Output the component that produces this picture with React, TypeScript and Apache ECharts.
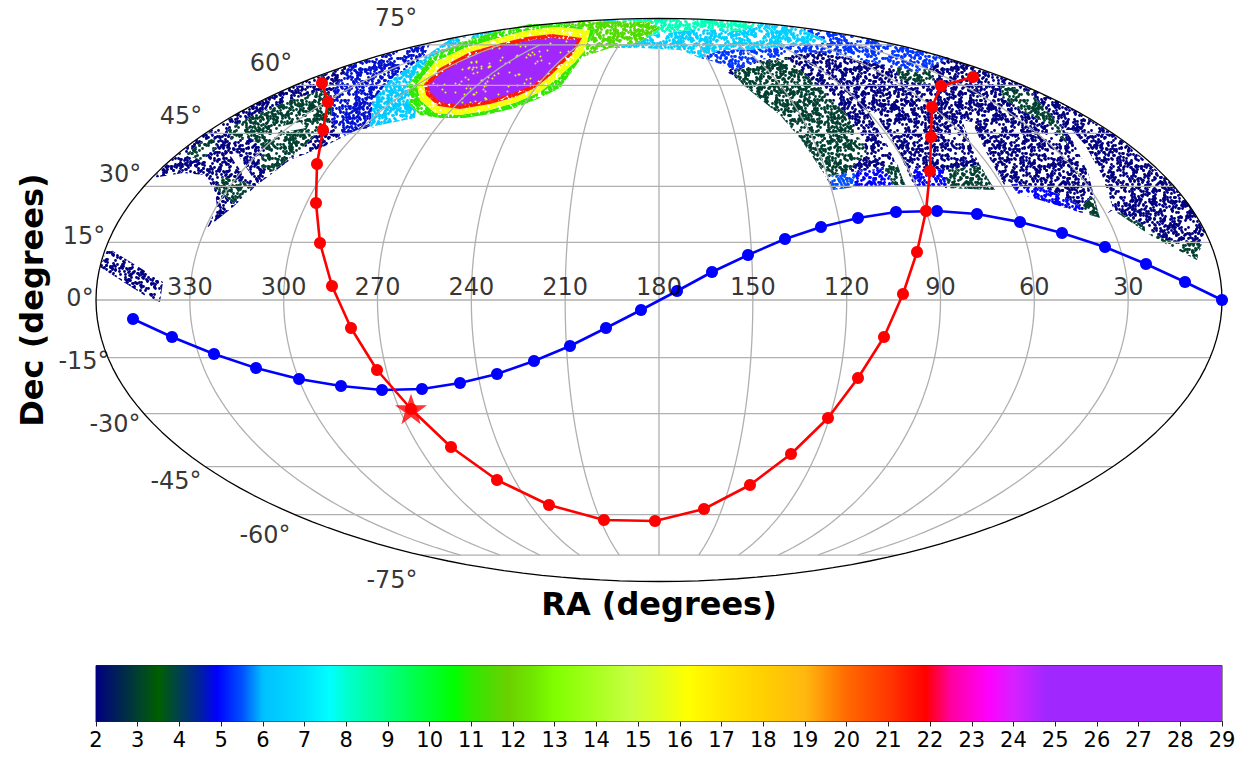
import React, { useEffect, useRef } from "react";
import * as echarts from "echarts";

type P = number[];

// Mollweide plane: both axes run in projected units (scaled so the semi-axes are 563 x 281.5).
const HALF_W = 563;
const HALF_H = 281.5;

const raLabels = [330, 300, 270, 240, 210, 180, 150, 120, 90, 60, 30];
const decTickLabels = ["75°", "60°", "45°", "30°", "15°", "0°", "-15°", "-30°", "-45°", "-60°", "-75°"];
const decTickX = [-263, -388, -478, -539, -575, -579, -575, -544, -483, -394, -267];
const decTickY = [282, 237, 184, 126, 64, 2, -61, -124, -181, -235, -280];
const colorbarTicks = [2, 29];

const blueX = [563, 526, 487, 446, 403, 361, 318, 278, 237, 199, 162, 126, 89, 53, 18, -18, -53, -89, -125, -162, -199, -237, -277, -318, -360, -403, -445, -487, -526];
const blueY = [0, 18, 36, 53, 67, 78, 86, 89, 88, 82, 73, 61, 45, 28, 9, -10, -28, -46, -61, -74, -83, -89, -90, -86, -79, -68, -54, -37, -19];

const redX = [314, 282, 273, 272, 271, 267, 258, 244, 225, 199, 169, 132, 91, 45, -4, -55, -110, -162, -208, -282, -308, -327, -339, -343, -342, -336, -331, -337];
const redY = [223, 214, 193, 163, 129, 89, 48, 6, -37, -78, -118, -154, -185, -209, -221, -220, -205, -180, -147, -70, -28, 14, 57, 97, 136, 170, 198, 217];
const starPoint = [-248, -109];

// Colour scale (value, colour)
const scaleValues = [2, 3, 3.5, 4, 4.5, 4.9, 5.5, 6, 7, 7.6, 8, 9, 10, 10.6, 11, 11.9, 12.5, 13, 14, 14.8, 15.5, 16.2, 17, 18, 19, 20, 20.5, 21, 21.9, 22.5, 23.4, 24, 24.8, 29];
const scaleColors = ["#000080", "#004030", "#005f00", "#004050", "#001fa0", "#0000ff", "#0050ff", "#00c0ff", "#00e0ff", "#00ffff", "#00ffd0", "#00ff80", "#00ff30", "#00ff00", "#30e800", "#6cd000", "#70e800", "#80ff00", "#a8ff20", "#c8ff40", "#e0ff20", "#ffff00", "#ffe800", "#ffd000", "#ffb810", "#ff6a00", "#ff5000", "#ff3800", "#ff0000", "#ff00a0", "#ff00ff", "#d820ff", "#a028ff", "#a028ff"];

// Sky coverage outlines, in projected units
const navyLeft: P[] = [[-506, 122], [-489, 139], [-459, 163], [-409, 194], [-359, 217], [-309, 235], [-284, 243], [-284, 173], [-302, 170], [-336, 153], [-369, 140], [-402, 115], [-426, 93], [-452, 72], [-442, 93], [-444, 108], [-454, 125], [-476, 127]];
const navyStrip: P[] = [[-559, 33], [-551, 52], [-496, 18], [-499, -2], [-512, 3]];
const greenA: P[] = [[-432, 170], [-409, 183], [-369, 200], [-336, 210], [-314, 195], [-339, 170], [-359, 150], [-387, 128], [-401, 135], [-393, 150], [-409, 162], [-427, 160]];
const greenB: P[] = [[-444, 112], [-436, 123], [-412, 117], [-406, 113], [-426, 97]];
const greenC: P[] = [[-474, 145], [-459, 157], [-446, 163], [-442, 153], [-459, 140]];
const gapLeftA: P[] = [[-429, 145], [-423, 148], [-406, 122], [-412, 120]];
const gapLeftB: P[] = [[-381, 173], [-359, 178], [-353, 172], [-375, 168]];
const blueLeft: P[] = [[-309, 235], [-259, 250], [-229, 256], [-239, 235], [-274, 215], [-289, 175], [-302, 170], [-319, 162], [-327, 180], [-329, 205]];
const cyanLeft: P[] = [[-209, 261], [-159, 270], [-119, 275], [-114, 265], [-159, 255], [-209, 240], [-239, 220], [-244, 182], [-289, 173], [-286, 200], [-269, 220], [-239, 240]];
const blobGreen: P[] = [[-64, 270], [-79, 240], [-99, 212], [-119, 202], [-144, 192], [-169, 186], [-194, 182], [-219, 182], [-239, 185], [-249, 195], [-251, 215], [-229, 242], [-199, 258], [-164, 268], [-129, 276], [-94, 276]];
const blobYellow: P[] = [[-69, 270], [-74, 250], [-84, 238], [-104, 220], [-119, 208], [-142, 198], [-169, 190], [-199, 185], [-224, 187], [-239, 200], [-242, 216], [-224, 238], [-194, 252], [-164, 261], [-134, 269], [-104, 273]];
const blobRed: P[] = [[-77, 262], [-87, 245], [-109, 224], [-124, 212], [-144, 203], [-169, 196], [-199, 191], [-221, 194], [-233, 205], [-235, 216], [-219, 232], [-189, 248], [-161, 256], [-133, 263], [-107, 266]];
const blobPurple: P[] = [[-82, 260], [-86, 250], [-112, 227], [-126, 215], [-146, 207], [-169, 200], [-199, 195], [-219, 198], [-229, 208], [-231, 215], [-216, 228], [-186, 245], [-159, 253], [-132, 259], [-109, 262]];
const centreBlue: P[] = [[109, 276], [159, 270], [209, 261], [259, 250], [291, 242], [261, 228], [211, 238], [161, 248], [131, 245], [101, 240], [76, 230], [56, 238], [41, 242], [61, 250]];
const centreCyan: P[] = [[-59, 280], [0, 281], [59, 280], [109, 276], [141, 272], [171, 258], [141, 255], [111, 252], [86, 250], [61, 250], [41, 242], [21, 250], [-19, 252], [-49, 252], [-69, 262]];
const centreSea: P[] = [[-49, 279], [0, 281], [61, 280], [101, 276], [81, 269], [41, 271], [-9, 265], [-39, 262]];
const centreGreen: P[] = [[-129, 275], [-79, 278], [-39, 279], [-9, 278], [1, 272], [-19, 258], [-49, 252], [-79, 242], [-89, 250], [-99, 258], [-124, 264]];
const navyRight: P[] = [[171, 267], [209, 261], [259, 250], [309, 235], [359, 217], [409, 194], [459, 163], [509, 120], [531, 94], [546, 68], [543, 57], [538, 40], [494, 63], [454, 90], [441, 82], [421, 88], [358, 107], [351, 117], [334, 110], [254, 115], [244, 115], [194, 113], [174, 110], [164, 128], [141, 162], [121, 185], [84, 217], [68, 228], [81, 240], [131, 250]];
const gapRightA: P[] = [[209, 188], [215, 188], [238, 152], [255, 114], [247, 114], [230, 152]];
const gapRightB: P[] = [[303, 180], [313, 178], [326, 150], [349, 108], [333, 108], [313, 152]];
const gapRightC: P[] = [[407, 170], [413, 170], [426, 155], [443, 125], [454, 92], [441, 80], [436, 100], [429, 128], [416, 155]];
const greenRightMain: P[] = [[74, 228], [84, 215], [121, 185], [141, 162], [164, 128], [171, 124], [188, 128], [208, 148], [188, 185], [161, 212], [128, 242], [101, 238]];
const greenRightLowA: P[] = [[286, 130], [321, 135], [336, 110], [286, 112]];
const greenRightLowB: P[] = [[226, 135], [238, 137], [246, 115], [229, 115]];
const blueLowA: P[] = [[191, 128], [226, 132], [234, 115], [194, 113]];
const skyLowA: P[] = [[171, 124], [196, 128], [196, 113], [174, 110]];
const blueLowB: P[] = [[253, 132], [286, 130], [288, 114], [256, 114]];
const blueLowC: P[] = [[353, 117], [386, 112], [421, 95], [423, 87], [358, 107]];
const greenLowC: P[] = [[424, 95], [434, 105], [441, 82], [426, 87]];
const greenLowD: P[] = [[454, 90], [476, 80], [506, 60], [543, 57], [538, 40], [494, 63]];
const greenUpperA: P[] = [[341, 215], [371, 208], [401, 175], [409, 155], [391, 175], [366, 188], [344, 202]];
const greenUpperB: P[] = [[236, 235], [271, 230], [276, 215], [241, 220]];

// Layers painted back to front: outline, colour-scale value (null = uncovered), dot density
const layers: { outline: P[]; level: number | null; density: number; radius?: number; solid?: boolean }[] = [
  { outline: navyLeft, level: 2, density: 12 },
  { outline: navyStrip, level: 2, density: 12 },
  { outline: greenA, level: 3, density: 14 },
  { outline: greenB, level: 3, density: 14 },
  { outline: greenC, level: 3, density: 14 },
  { outline: gapLeftA, level: null, density: 0 },
  { outline: gapLeftB, level: null, density: 0 },
  { outline: blueLeft, level: 4.7, density: 14 },
  { outline: navyRight, level: 2, density: 12 },
  { outline: gapRightA, level: null, density: 0 },
  { outline: gapRightB, level: null, density: 0 },
  { outline: gapRightC, level: null, density: 0 },
  { outline: greenRightMain, level: 3, density: 14 },
  { outline: greenRightLowA, level: 3, density: 14 },
  { outline: greenRightLowB, level: 3, density: 14 },
  { outline: blueLowA, level: 4.9, density: 14 },
  { outline: skyLowA, level: 5.5, density: 18 },
  { outline: blueLowB, level: 4.9, density: 14 },
  { outline: blueLowC, level: 4.9, density: 14 },
  { outline: greenLowC, level: 3, density: 14 },
  { outline: greenLowD, level: 3, density: 14 },
  { outline: greenUpperA, level: 3, density: 14 },
  { outline: greenUpperB, level: 3, density: 14 },
  { outline: centreBlue, level: 5.3, density: 14 },
  { outline: cyanLeft, level: 6.3, density: 18 },
  { outline: centreCyan, level: 6.5, density: 18 },
  { outline: centreSea, level: 8.3, density: 20 },
  { outline: centreGreen, level: 11.5, density: 22 },
  { outline: blobGreen, level: 11, density: 26 },
  { outline: blobYellow, level: 16, density: 30 },
  { outline: blobRed, level: 21.5, density: 34 },
  { outline: blobPurple, level: 26, density: 0, solid: true },
  { outline: blobPurple, level: 15.5, density: 2, radius: 1 },
];

function colorAt(v: number): string {
  let i = 0;
  while (i < scaleValues.length - 2 && v > scaleValues[i + 1]) i++;
  const t = (v - scaleValues[i]) / (scaleValues[i + 1] - scaleValues[i]);
  const a = echarts.color.parse(scaleColors[i]);
  const b = echarts.color.parse(scaleColors[i + 1]);
  return `rgb(${a.slice(0, 3).map((c: number, k: number) => Math.round(c + (b[k] - c) * t)).join(",")})`;
}

// A stipple tile: quadratic residues mod a prime give an irregular, repeatable dot texture
function stipple(color: string, density: number, radius: number): HTMLCanvasElement {
  const T = 97;
  const cv = document.createElement("canvas");
  cv.width = T;
  cv.height = T;
  const ctx = cv.getContext("2d")!;
  ctx.fillStyle = color;
  for (let a = 1; a <= density; a++) {
    for (let i = 0; i < T; i++) {
      const x = (i * i * i + a * i * 11) % T;
      const y = (a * i * i + 5 * i + a * a) % T;
      for (const ox of x < 3 ? [0, T] : x > T - 3 ? [0, -T] : [0]) {
        for (const oy of y < 3 ? [0, T] : y > T - 3 ? [0, -T] : [0]) {
          ctx.beginPath();
          ctx.arc(x + ox + 0.5, y + oy + 0.5, radius, 0, Math.PI * 2);
          ctx.fill();
        }
      }
    }
  }
  return cv;
}

function project(lonDeg: number, latDeg: number): number[] {
  const lat = (latDeg * Math.PI) / 180;
  let th = lat;
  for (let i = 0; i < 60; i++) {
    const d = 2 + 2 * Math.cos(2 * th);
    if (Math.abs(d) < 1e-9) break;
    th -= (2 * th + Math.sin(2 * th) - Math.PI * Math.sin(lat)) / d;
  }
  return [(HALF_W * lonDeg * Math.cos(th)) / 180, HALF_H * Math.sin(th)];
}

const sweep = (from: number, to: number, step: number) => {
  const out: number[] = [];
  for (let v = from; v <= to + 1e-9; v += step) out.push(v);
  return out;
};

const FONT = "DejaVu Sans";

export default function App() {
  const ref = useRef<HTMLDivElement>(null);
  useEffect(() => {
    const chart = echarts.init(ref.current!, undefined, { renderer: "svg" });
    const fills = layers.map((l) => {
      if (l.level === null) return "#ffffff";
      if (l.solid) return colorAt(l.level);
      return { image: stipple(colorAt(l.level), l.density, l.radius ?? 1.4), repeat: "repeat" };
    });

    const grat: any[] = [];
    for (const ra of sweep(-150, 150, 30)) {
      grat.push(sweep(-75, 75, 1.5).map((d) => project(ra, d)));
    }
    for (const dec of sweep(-75, 75, 15)) {
      grat.push(sweep(-180, 180, 3).map((ra) => project(ra, dec)));
    }
    const graticule = grat.map((data) => ({
      type: "line",
      data,
      symbol: "none",
      silent: true,
      clip: false,
      z: 3,
      lineStyle: { color: "#b0b0b0", width: 1.3 },
    }));

    const frame = sweep(0, 360, 2).map((t) => [
      HALF_W * Math.cos((t * Math.PI) / 180),
      HALF_H * Math.sin((t * Math.PI) / 180),
    ]);

    const gradientStops = scaleValues.map((v, i) => ({ offset: (v - 2) / 27, color: scaleColors[i] }));

    chart.setOption({
      animation: false,
      backgroundColor: "#ffffff",
      textStyle: { fontFamily: FONT },
      grid: [
        { left: 96, width: 1126, top: 18.5, height: 563, show: false },
        { left: 96, width: 1126, top: 665.5, height: 56, show: true, borderColor: "#222", borderWidth: 1, backgroundColor: "transparent" },
      ],
      xAxis: [
        {
          gridIndex: 0, type: "value", min: -HALF_W, max: HALF_W,
          axisLine: { show: false }, axisTick: { show: false }, axisLabel: { show: false }, splitLine: { show: false },
          name: "RA (degrees)", nameLocation: "middle", nameGap: 6,
          nameTextStyle: { fontFamily: FONT, fontWeight: "bold", fontSize: 32, color: "#000" },
        },
        {
          gridIndex: 1, type: "value", min: colorbarTicks[0], max: colorbarTicks[1], interval: 1,
          axisLine: { show: true, lineStyle: { color: "#222", width: 1 } },
          axisTick: { show: true, length: 5, lineStyle: { color: "#222", width: 1 } },
          axisLabel: { show: true, fontFamily: FONT, fontSize: 21, color: "#000", margin: 8, hideOverlap: false, showMinLabel: true, showMaxLabel: true },
          splitLine: { show: false },
        },
      ],
      yAxis: [
        {
          gridIndex: 0, type: "value", min: -HALF_H, max: HALF_H,
          axisLine: { show: false }, axisTick: { show: false }, axisLabel: { show: false }, splitLine: { show: false },
          name: "Dec (degrees)", nameLocation: "middle", nameGap: 48, nameRotate: 90,
          nameTextStyle: { fontFamily: FONT, fontWeight: "bold", fontSize: 32, color: "#000" },
        },
        { gridIndex: 1, type: "value", min: 0, max: 1, show: false },
      ],
      series: [
        {
          type: "custom",
          name: "coverage",
          xAxisIndex: 0,
          yAxisIndex: 0,
          silent: true,
          clip: false,
          z: 1,
          data: layers.map(() => [0, 0]),
          renderItem: (params: any, api: any) => {
            const layer = layers[params.dataIndex];
            const points = layer.outline.map((p) => api.coord(p));
            const shape = { points };
            const children: any[] = [];
            if (layer.level !== null && !layer.solid && layer.radius === undefined && layer.outline !== navyLeft && layer.outline !== navyStrip && layer.outline !== navyRight) {
              children.push({ type: "polygon", shape, style: { fill: "#ffffff" } });
            }
            children.push({ type: "polygon", shape, style: { fill: fills[params.dataIndex] } });
            return { type: "group", children };
          },
        },
        ...graticule,
        {
          type: "line",
          data: frame,
          symbol: "none",
          silent: true,
          clip: false,
          z: 4,
          lineStyle: { color: "#000", width: 1.3 },
        },
        {
          type: "line",
          name: "blue",
          data: blueX.map((x, i) => [x, blueY[i]]),
          symbol: "circle",
          symbolSize: 12,
          showAllSymbol: true,
          clip: false,
          z: 6,
          itemStyle: { color: "#0000ff" },
          lineStyle: { color: "#0000ff", width: 2.6 },
        },
        {
          type: "line",
          name: "red",
          data: [...redX.slice(0, 19).map((x, i) => [x, redY[i]]), starPoint, ...redX.slice(19).map((x, i) => [x, redY[i + 19]])],
          symbol: "circle",
          symbolSize: 12,
          showAllSymbol: true,
          clip: false,
          z: 7,
          itemStyle: { color: "#ff0000" },
          lineStyle: { color: "#ff0000", width: 2.6 },
        },
        {
          type: "scatter",
          name: "star",
          data: [starPoint],
          symbol: "path://M50 0 L61.8 35.1 L98.9 35.1 L68.9 57.3 L79.4 92.7 L50 71 L20.6 92.7 L31.1 57.3 L1.1 35.1 L38.2 35.1Z",
          symbolSize: 32,
          symbolKeepAspect: true,
          clip: false,
          z: 8,
          itemStyle: { color: "#ff0000" },
        },
        {
          type: "scatter",
          name: "ra labels",
          data: raLabels.map((ra) => ({ value: [project(180 - ra, 0)[0], 13], name: String(ra) })),
          symbolSize: 0,
          silent: true,
          clip: false,
          z: 9,
          label: { show: true, position: "inside", formatter: "{b}", fontFamily: FONT, fontSize: 24, color: "#000" },
        },
        {
          type: "scatter",
          name: "dec labels",
          data: decTickLabels.map((t, i) => ({ value: [decTickX[i], decTickY[i]], name: t })),
          symbolSize: 0,
          silent: true,
          clip: false,
          z: 9,
          label: { show: true, position: "inside", formatter: "{b}", fontFamily: FONT, fontSize: 24, color: "#000" },
        },
        {
          type: "custom",
          name: "colorbar",
          xAxisIndex: 1,
          yAxisIndex: 1,
          silent: true,
          z: 1,
          data: [[colorbarTicks[0], 0]],
          renderItem: (_p: any, api: any) => {
            const a = api.coord([colorbarTicks[0], 1]);
            const b = api.coord([colorbarTicks[1], 0]);
            return {
              type: "rect",
              shape: { x: a[0], y: a[1], width: b[0] - a[0], height: b[1] - a[1] },
              style: { fill: new echarts.graphic.LinearGradient(0, 0, 1, 0, gradientStops) },
            };
          },
        },
      ],
    });
    return () => chart.dispose();
  }, []);
  return <div ref={ref} style={{ position: "absolute", left: 0, top: 0, width: 1244, height: 757 }} />;
}
